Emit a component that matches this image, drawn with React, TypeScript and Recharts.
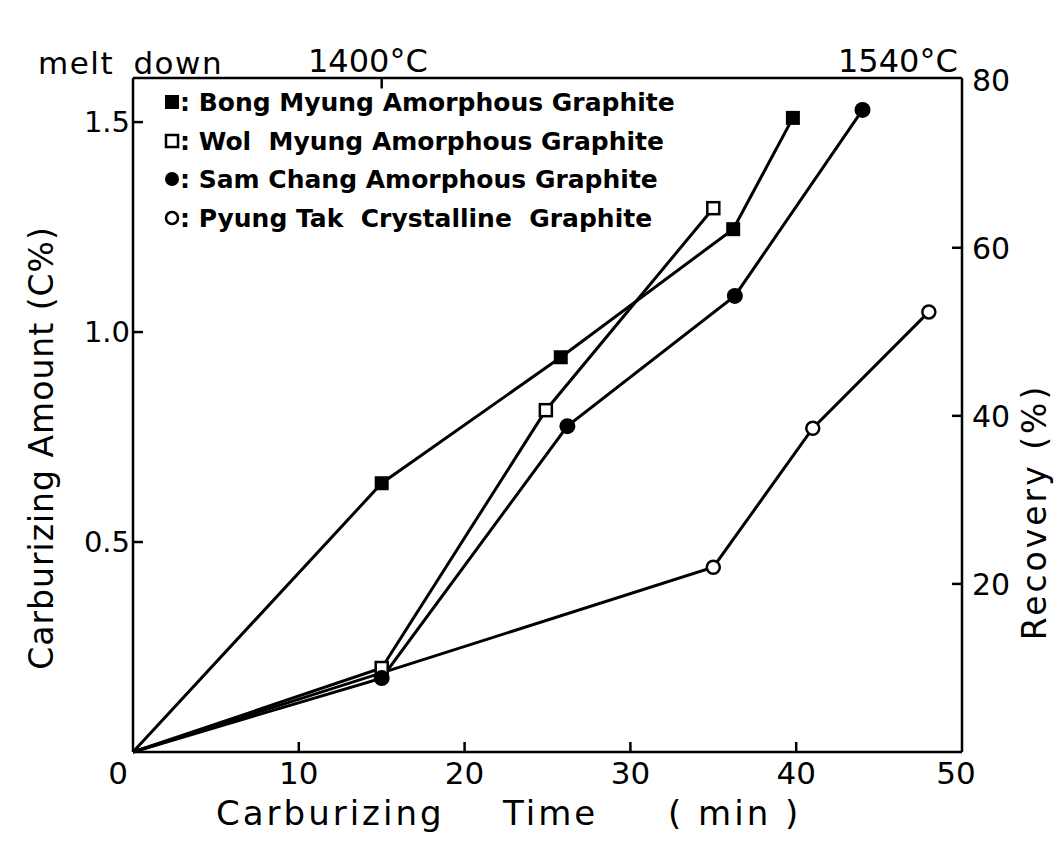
import { LineChart, Line, XAxis, YAxis, ReferenceLine } from 'recharts';

// carburizing time (min) vs carbon pick-up (C%)
const bongTime = [0, 15, 25.8, 36.2, 39.8];
const bongC = [0, 0.64, 0.94, 1.245, 1.51];
const wolTime = [0, 15, 24.9, 35];
const wolC = [0, 0.2, 0.814, 1.295];
const samTime = [0, 15, 26.2, 36.3, 44];
const samC = [0, 0.176, 0.776, 1.086, 1.529];
const pyungTime = [0, 35, 41, 48];
const pyungC = [0, 0.44, 0.771, 1.048];

const xTicks = [0, 10, 20, 30, 40, 50];
const leftTicks = [0.5, 1.0, 1.5];
const rightTicks = [20, 40, 60, 80];
const LEFT_MAX = 1.605;
const RIGHT_MAX = 80.2;

const legendLabels = [
  'Bong Myung Amorphous Graphite',
  'Wol  Myung Amorphous Graphite',
  'Sam Chang Amorphous Graphite',
  'Pyung Tak  Crystalline  Graphite',
];

const toRows = (t: number[], c: number[]) => t.map((x, i) => ({ t: x, c: c[i] }));

const FONT = '"DejaVu Sans", sans-serif';

const marker = (kind: string) => (props: any) => {
  const { cx, cy, index } = props;
  if (index === 0 || cx == null) return <g key={`m${index}`} />;
  if (kind === 'fsq')
    return <rect key={`m${index}`} x={cx - 7} y={cy - 7} width={14} height={14} fill="#000" />;
  if (kind === 'osq')
    return (
      <rect key={`m${index}`} x={cx - 6} y={cy - 6} width={12} height={12} fill="#fff" stroke="#000" strokeWidth={2.5} />
    );
  if (kind === 'fci') return <circle key={`m${index}`} cx={cx} cy={cy} r={8} fill="#000" />;
  return <circle key={`m${index}`} cx={cx} cy={cy} r={6.5} fill="#fff" stroke="#000" strokeWidth={2.5} />;
};

const XTick = (props: any) => {
  const { x, y, payload } = props;
  const v = payload.value;
  const dx = v === 0 ? -15 : v === 50 ? -6 : 0;
  return (
    <g>
      {v !== 0 && v !== 50 && <line x1={x} y1={y} x2={x} y2={y - 10} stroke="#000" strokeWidth={2.5} />}
      <text x={x + dx} y={y + 32} textAnchor="middle" fontSize={31} fontFamily={FONT} fill="#000">
        {v}
      </text>
    </g>
  );
};

const LeftTick = (props: any) => {
  const { x, y, payload } = props;
  return (
    <g>
      <line x1={x} y1={y} x2={x + 10} y2={y} stroke="#000" strokeWidth={2.5} />
      <text x={x - 3} y={y + 10} textAnchor="end" fontSize={29} fontFamily={FONT} fill="#000">
        {payload.value.toFixed(1)}
      </text>
    </g>
  );
};

const RightTick = (props: any) => {
  const { x, y, payload } = props;
  return (
    <g>
      {payload.value !== 80 && <line x1={x} y1={y} x2={x - 10} y2={y} stroke="#000" strokeWidth={2.5} />}
      <text x={x + 10} y={y + 11} textAnchor="start" fontSize={30} fontFamily={FONT} fill="#000">
        {payload.value}
      </text>
    </g>
  );
};

const LegendIcon = ({ kind }: { kind: string }) => (
  <svg width={16} height={16} style={{ verticalAlign: 'middle', marginTop: -4 }}>
    {kind === 'fsq' && <rect x={1} y={1} width={14} height={14} fill="#000" />}
    {kind === 'osq' && <rect x={2} y={2} width={12} height={12} fill="#fff" stroke="#000" strokeWidth={2.5} />}
    {kind === 'fci' && <circle cx={8} cy={8} r={7} fill="#000" />}
    {kind === 'oci' && <circle cx={8} cy={8} r={6} fill="#fff" stroke="#000" strokeWidth={2.5} />}
  </svg>
);

const kinds = ['fsq', 'osq', 'fci', 'oci'];

const App = () => {
  return (
    <div style={{ position: 'absolute', left: 0, top: 0, width: 1058, height: 845, background: '#fff', fontFamily: FONT }}>
      <LineChart width={1058} height={845} margin={{ top: 78, right: 0, bottom: 0, left: 0 }}>
        <XAxis
          dataKey="t"
          type="number"
          domain={[0, 50]}
          ticks={xTicks}
          height={93}
          tickSize={0}
          tickMargin={0}
          tickLine={false}
          tick={<XTick />}
          axisLine={{ stroke: '#000', strokeWidth: 2.5 }}
          allowDuplicatedCategory={false}
        />
        <YAxis
          yAxisId="left"
          dataKey="c"
          type="number"
          domain={[0, LEFT_MAX]}
          ticks={leftTicks}
          width={133}
          tickSize={0}
          tickMargin={0}
          tickLine={false}
          tick={<LeftTick />}
          axisLine={{ stroke: '#000', strokeWidth: 2.5 }}
        />
        <YAxis
          yAxisId="right"
          orientation="right"
          type="number"
          domain={[0, RIGHT_MAX]}
          ticks={rightTicks}
          width={96}
          tickSize={0}
          tickMargin={0}
          tickLine={false}
          tick={<RightTick />}
          axisLine={{ stroke: '#000', strokeWidth: 2.5 }}
          allowDataOverflow
        />
        <ReferenceLine yAxisId="right" y={RIGHT_MAX} stroke="#000" strokeWidth={2.5} ifOverflow="extendDomain" />
        <ReferenceLine
          yAxisId="left"
          segment={[
            { x: 15, y: LEFT_MAX },
            { x: 15, y: LEFT_MAX - 0.025 },
          ]}
          stroke="#000"
          strokeWidth={2.5}
        />
        <Line yAxisId="left" data={toRows(bongTime, bongC)} dataKey="c" stroke="#000" strokeWidth={3} dot={marker('fsq')} isAnimationActive={false} />
        <Line yAxisId="left" data={toRows(wolTime, wolC)} dataKey="c" stroke="#000" strokeWidth={3} dot={marker('osq')} isAnimationActive={false} />
        <Line yAxisId="left" data={toRows(samTime, samC)} dataKey="c" stroke="#000" strokeWidth={3} dot={marker('fci')} isAnimationActive={false} />
        <Line yAxisId="left" data={toRows(pyungTime, pyungC)} dataKey="c" stroke="#000" strokeWidth={3} dot={marker('oci')} isAnimationActive={false} />
      </LineChart>

      {/* top annotations */}
      <div style={{ position: 'absolute', left: 38, top: 45, fontSize: 31, letterSpacing: 1.5, wordSpacing: 8 }}>melt down</div>
      <div style={{ position: 'absolute', left: 308, top: 42, fontSize: 32 }}>1400°C</div>
      <div style={{ position: 'absolute', left: 838, top: 42, fontSize: 32 }}>1540°C</div>

      {/* legend */}
      <div style={{ position: 'absolute', left: 164, top: 84, fontSize: 25, fontWeight: 'bold', lineHeight: '38.6px' }}>
        {legendLabels.map((l, i) => (
          <div key={l} style={{ whiteSpace: 'pre' }}>
            <LegendIcon kind={kinds[i]} />: {l}
          </div>
        ))}
      </div>

      {/* axis titles */}
      <div style={{ position: 'absolute', left: 0, top: 793, width: 1058, height: 46, fontSize: 34, lineHeight: '40px', whiteSpace: 'pre', letterSpacing: 3 }}>
        <span style={{ position: 'absolute', left: 216 }}>Carburizing</span>
        <span style={{ position: 'absolute', left: 503 }}>Time</span>
        <span style={{ position: 'absolute', left: 668 }}>( min )</span>
      </div>
      <div
        style={{
          position: 'absolute',
          left: 41,
          top: 448,
          transform: 'translate(-50%, -50%) rotate(-90deg)',
          fontSize: 33,
          letterSpacing: 1,
          whiteSpace: 'pre',
        }}
      >
        Carburizing Amount (C%)
      </div>
      <div
        style={{
          position: 'absolute',
          left: 1034,
          top: 512,
          transform: 'translate(-50%, -50%) rotate(-90deg)',
          fontSize: 33,
          letterSpacing: 3,
          whiteSpace: 'pre',
        }}
      >
        Recovery (%)
      </div>
    </div>
  );
};

export default App;
